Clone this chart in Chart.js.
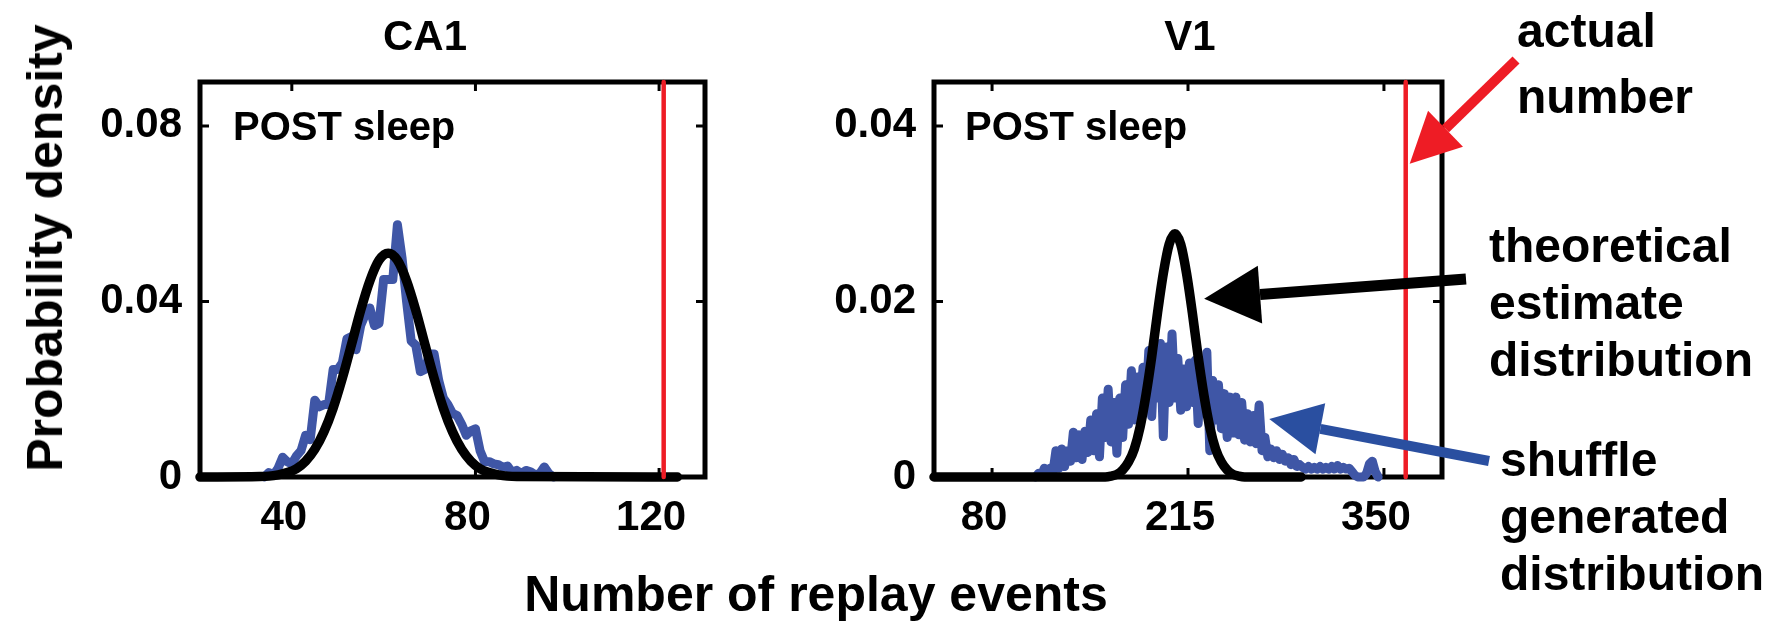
<!DOCTYPE html>
<html>
<head>
<meta charset="utf-8">
<title>Replay events</title>
<script src="https://cdn.jsdelivr.net/npm/chart.js@4.4.1/dist/chart.umd.min.js"></script>
<style>
  body { margin: 0; background: #fff; }
  #wrap { position: relative; width: 1785px; height: 629px; overflow: hidden;
          font-family: 'Liberation Sans', Arial, sans-serif; font-weight: bold; color: #000; }
  canvas { position: absolute; top: 0; }
  .txt { position: absolute; white-space: nowrap; }
  .mid { transform: translate(-50%, -50%); line-height: 1; }
  .note { font-size: 48px; }
</style>
</head>
<body>
<div id="wrap">
  <canvas id="ca1" width="730" height="629" style="left:0"></canvas>
  <canvas id="v1" width="1025" height="629" style="left:760px"></canvas>

  <div class="txt" style="left:45px; top:248px; font-size:50px; line-height:1; transform:translate(-50%,-50%) rotate(-90deg)">Probability density</div>
  <div class="txt mid" style="left:425px; top:36px; font-size:42px">CA1</div>
  <div class="txt mid" style="left:1190px; top:36px; font-size:42px">V1</div>
  <div class="txt" style="left:233px; top:106px; font-size:40px; line-height:40px">POST sleep</div>
  <div class="txt" style="left:965px; top:106px; font-size:40px; line-height:40px">POST sleep</div>
  <div class="txt mid" style="left:816px; top:594px; font-size:50px">Number of replay events</div>

  <div class="txt note" style="left:1517px; top:-2px; line-height:66px">actual<br>number</div>
  <div class="txt note" style="left:1489px; top:217px; line-height:57px">theoretical<br>estimate<br>distribution</div>
  <div class="txt note" style="left:1500px; top:431px; line-height:57px">shuffle<br>generated<br>distribution</div>
</div>

<script>
// CA1: shuffle histogram (one bin per event count, starting at 34)
const ca1ShuffleStart = 34;
const ca1Shuffle = [
  0, 0.001, 0.0005, 0.002, 0.0045, 0.0035, 0.003, 0.0048, 0.006, 0.0095,
  0.0085, 0.0175, 0.016, 0.0165, 0.0165, 0.0245, 0.0245, 0.026, 0.0315, 0.032,
  0.029, 0.0345, 0.037, 0.0385, 0.0345, 0.035, 0.045, 0.045, 0.045, 0.0575,
  0.05, 0.04, 0.031, 0.03, 0.024, 0.0245, 0.028, 0.028, 0.022, 0.018,
  0.0165, 0.0145, 0.014, 0.012, 0.0095, 0.0105, 0.011, 0.006, 0.0035, 0.0035,
  0.003, 0.0028, 0.0022, 0.0025, 0.001, 0.0015, 0.0008, 0.0015, 0.0012, 0.0005,
  0.0008, 0.0023, 0.0008, 0
];
const ca1TheoryX = [20, 33, 35, 37, 39, 41, 43, 45, 47, 49, 51, 53, 55, 57, 59, 61,
  63, 65, 67, 69, 71, 73, 75, 77, 79, 81, 83, 85, 87, 89, 124];
const ca1Theory = [0, 0.0001, 0.0002, 0.0005, 0.0010, 0.0019, 0.0036, 0.0063, 0.0103,
  0.0157, 0.0225, 0.0302, 0.0380, 0.0447, 0.0494, 0.0510, 0.0494, 0.0447, 0.0380,
  0.0302, 0.0225, 0.0157, 0.0103, 0.0063, 0.0036, 0.0019, 0.0010, 0.0005, 0.0002,
  0.0001, 0];
const ca1Actual = 121;
const ca1XTicks = [40, 80, 120];
const ca1YTicks = [0, 0.04, 0.08];

// V1: shuffle histogram (bins of 2 events, starting at 110)
const v1ShuffleStart = 110;
const v1ShuffleStep = 2;
const v1Shuffle = [
  0, 0.0004, 0.0002, 0.0010, 0.0005, 0.0010, 0.0006, 0.0030, 0.0010, 0.0032,
  0.0012, 0.0030, 0.0018, 0.0051, 0.0022, 0.0048, 0.0020, 0.0052, 0.0028, 0.0065,
  0.0030, 0.0072, 0.0023, 0.0090, 0.0045, 0.0100, 0.0040, 0.0085, 0.0027, 0.0090,
  0.0045, 0.0105, 0.0060, 0.0121, 0.0065, 0.0114, 0.0070, 0.0125, 0.0080, 0.0144,
  0.0069, 0.0140, 0.0090, 0.0152, 0.0046, 0.0148, 0.0085, 0.0163, 0.0090, 0.0135,
  0.0076, 0.0123, 0.0080, 0.0130, 0.0085, 0.0133, 0.0061, 0.0125, 0.0080, 0.0142,
  0.0030, 0.0110, 0.0065, 0.0105, 0.0055, 0.0095, 0.0045, 0.0091, 0.0050, 0.0091,
  0.0048, 0.0085, 0.0042, 0.0072, 0.0040, 0.0070, 0.0038, 0.0082, 0.0030, 0.0045,
  0.0023, 0.0032, 0.0022, 0.0030, 0.0020, 0.0026, 0.0018, 0.0022, 0.0014, 0.0020,
  0.0012, 0.0014, 0.0011, 0.0009, 0.0012, 0.0009, 0.0011, 0.0009, 0.0012, 0.0009,
  0.0011, 0.0009, 0.0012, 0.0009, 0.0013, 0.0009, 0.0011, 0.0009, 0.0010, 0.0006,
  0.0002, 0, 0, 0, 0.0004, 0.0015, 0.0018, 0.0006, 0
];
const v1TheoryX = [40, 158, 162, 166, 170, 174, 178, 182, 186, 190, 194, 198, 202, 206,
  210, 214, 218, 222, 226, 230, 234, 238, 242, 246, 250, 254, 293];
const v1Theory = [0, 0, 0.0001, 0.0003, 0.0008, 0.0017, 0.0032, 0.0057, 0.0093, 0.0137,
  0.0187, 0.0232, 0.0265, 0.0277, 0.0265, 0.0232, 0.0187, 0.0137, 0.0093, 0.0057,
  0.0032, 0.0017, 0.0008, 0.0003, 0.0001, 0, 0];
const v1Actual = 365;
const v1XTicks = [80, 215, 350];
const v1YTicks = [0, 0.02, 0.04];

const BLUE = '#3f56a6';
const RED = '#ee1c25';

const pts = (xs, ys) => ys.map((y, i) => ({ x: xs[i], y }));
const binned = (start, step, ys) => ys.map((y, i) => ({ x: start + i * step, y }));

// box around the plot area with small inward ticks
const framePlugin = {
  id: 'frame',
  beforeDatasetsDraw(chart) {
    const { ctx, chartArea: a, scales: { x, y } } = chart;
    ctx.save();
    ctx.strokeStyle = '#000';
    ctx.lineWidth = 5;
    ctx.strokeRect(a.left, a.top, a.right - a.left, a.bottom - a.top);
    ctx.lineWidth = 3;
    ctx.beginPath();
    x.ticks.forEach(t => {
      const px = x.getPixelForValue(t.value);
      ctx.moveTo(px, a.top); ctx.lineTo(px, a.top + 9);
      ctx.moveTo(px, a.bottom); ctx.lineTo(px, a.bottom - 9);
    });
    y.ticks.forEach(t => {
      const py = y.getPixelForValue(t.value);
      ctx.moveTo(a.left, py); ctx.lineTo(a.left + 9, py);
      ctx.moveTo(a.right, py); ctx.lineTo(a.right - 9, py);
    });
    ctx.stroke();
    ctx.restore();
  }
};

function drawArrow(ctx, x0, y0, x1, y1, color, width, headLen, headHalf) {
  const ang = Math.atan2(y1 - y0, x1 - x0);
  const bx = x1 - headLen * Math.cos(ang), by = y1 - headLen * Math.sin(ang);
  ctx.save();
  ctx.strokeStyle = color;
  ctx.fillStyle = color;
  ctx.lineWidth = width;
  ctx.beginPath();
  ctx.moveTo(x0, y0);
  ctx.lineTo(bx, by);
  ctx.stroke();
  ctx.beginPath();
  ctx.moveTo(x1, y1);
  ctx.lineTo(bx + headHalf * Math.sin(ang), by - headHalf * Math.cos(ang));
  ctx.lineTo(bx - headHalf * Math.sin(ang), by + headHalf * Math.cos(ang));
  ctx.closePath();
  ctx.fill();
  ctx.restore();
}

// arrows from the side notes to the curves they describe
const pointers = [
  { from: [756, 60], at: [v1Actual, 0.0357], dx: 4, color: RED, w: 10, len: 50, half: 25 },
  { from: [706, 279], at: [222, 0.0203], dx: 6, color: '#000', w: 11, len: 56, half: 29 },
  { from: [729, 461], at: [271, 0.0066], dx: 0, color: '#2a4fa0', w: 10, len: 52, half: 26 }
];
const arrowPlugin = {
  id: 'arrows',
  afterDatasetsDraw(chart) {
    const { ctx, scales: { x, y } } = chart;
    pointers.forEach(p => {
      drawArrow(ctx, p.from[0], p.from[1],
        x.getPixelForValue(p.at[0]) + p.dx, y.getPixelForValue(p.at[1]),
        p.color, p.w, p.len, p.half);
    });
  }
};

const tickFont = { family: "'Liberation Sans', Arial, sans-serif", size: 42, weight: 'bold' };

function makePanel(canvasId, cfg) {
  return new Chart(document.getElementById(canvasId), {
    type: 'line',
    data: {
      datasets: [
        { data: [{ x: cfg.actual, y: 0 }, { x: cfg.actual, y: cfg.yMax }], borderColor: RED,
          borderWidth: 4.5, order: 0, clip: 10 },
        { data: cfg.theory, borderColor: '#000', borderWidth: 9.5, cubicInterpolationMode: 'monotone',
          order: 1, clip: 10 },
        { data: cfg.shuffle, borderColor: BLUE, borderWidth: 9, tension: 0, order: 2, clip: 10 }
      ]
    },
    options: {
      responsive: false,
      animation: false,
      parsing: false,
      layout: { padding: { top: 82, right: cfg.padRight, left: 0, bottom: 0 } },
      elements: {
        point: { radius: 0 },
        line: { borderCapStyle: 'round', borderJoinStyle: 'round', fill: false }
      },
      plugins: { legend: { display: false }, tooltip: { enabled: false } },
      scales: {
        x: {
          type: 'linear', min: cfg.xMin, max: cfg.xMax,
          afterBuildTicks: s => { s.ticks = cfg.xTicks.map(v => ({ value: v })); },
          afterFit: s => { s.height = 152; },
          grid: { display: false, drawTicks: false },
          border: { display: false },
          ticks: { font: tickFont, color: '#000', padding: 16, labelOffset: -8, maxRotation: 0,
                   autoSkip: false, callback: v => String(v) }
        },
        y: {
          type: 'linear', min: 0, max: cfg.yMax,
          afterBuildTicks: s => { s.ticks = cfg.yTicks.map(v => ({ value: v })); },
          afterFit: s => { s.width = cfg.axisWidth; },
          grid: { display: false, drawTicks: false },
          border: { display: false },
          ticks: { font: tickFont, color: '#000', padding: 18, autoSkip: false,
                   callback: v => String(v) }
        }
      }
    },
    plugins: cfg.extra ? [framePlugin, cfg.extra] : [framePlugin]
  });
}

makePanel('ca1', {
  xMin: 20, xMax: 130, yMax: 0.09, axisWidth: 200, padRight: 25,
  xTicks: ca1XTicks, yTicks: ca1YTicks, actual: ca1Actual,
  shuffle: binned(ca1ShuffleStart, 1, ca1Shuffle),
  theory: pts(ca1TheoryX, ca1Theory)
});

makePanel('v1', {
  xMin: 40, xMax: 390, yMax: 0.045, axisWidth: 174, padRight: 343,
  xTicks: v1XTicks, yTicks: v1YTicks, actual: v1Actual,
  shuffle: binned(v1ShuffleStart, v1ShuffleStep, v1Shuffle),
  theory: pts(v1TheoryX, v1Theory),
  extra: arrowPlugin
});
</script>
</body>
</html>
